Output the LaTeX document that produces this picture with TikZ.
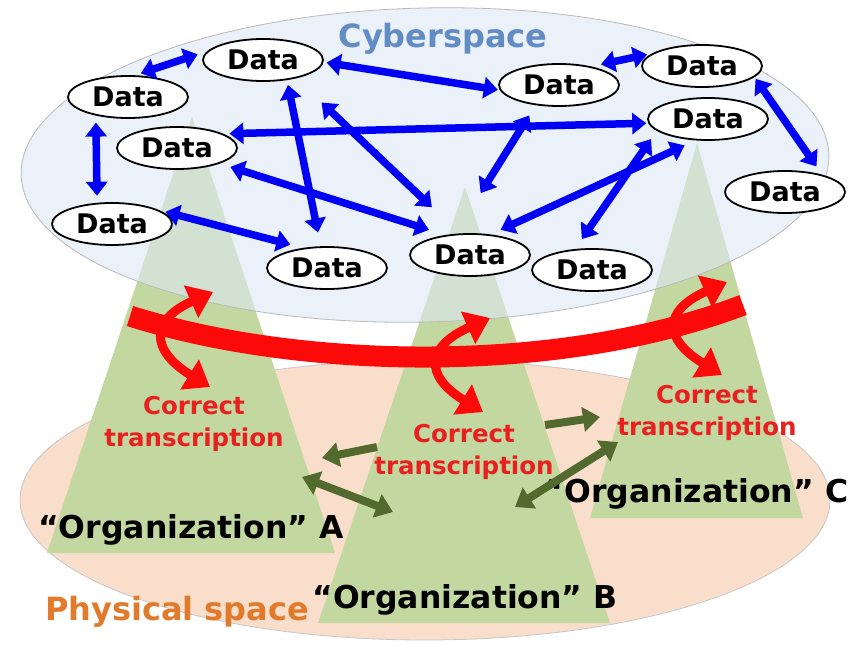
\documentclass[tikz,border=0pt]{standalone}
\usepackage{fontspec}
\setmainfont{DejaVu Sans}
\usepackage{xcolor}
\usetikzlibrary{shapes.geometric,arrows.meta}

\definecolor{cyberfill}{RGB}{221,231,244}
\definecolor{physfill}{RGB}{250,222,204}
\definecolor{orgfill}{RGB}{195,216,160}
\definecolor{cybertext}{RGB}{98,140,196}
\definecolor{phystext}{RGB}{226,122,44}
\definecolor{transred}{RGB}{232,32,32}
\definecolor{bandred}{RGB}{252,10,10}
\definecolor{linkgreen}{RGB}{82,106,46}
\definecolor{datablue}{RGB}{0,0,245}

\tikzset{
  datanode/.style={ellipse, draw=black, line width=1.8pt, fill=white,
    minimum width=120pt, minimum height=42pt, inner sep=0pt,
    font=\fontsize{27}{29}\selectfont\bfseries},
  bluearrow/.style={datablue, line width=7.5pt, >={Triangle[width=21pt,length=14pt]}},
  redband/.style={bandred, line width=21pt},
  redarrow/.style={bandred, line width=9pt, >={Triangle[width=34pt,length=24pt]}},
  greenarrow/.style={linkgreen, line width=8pt, >={Triangle[width=24pt,length=17pt]}},
  translabel/.style={text=transred, align=center, inner sep=0pt,
    font=\fontsize{24.5}{32}\selectfont\bfseries},
  orglabel/.style={inner sep=0pt, font=\fontsize{31.5}{34}\selectfont\bfseries},
  spacelabel/.style={inner sep=0pt, font=\fontsize{32}{34}\selectfont\bfseries}
}

\begin{document}
\begin{tikzpicture}[x=1pt,y=-1pt]
\useasboundingbox (0,0) rectangle (853,645);

% physical space and the three organizations
\draw[gray!45, line width=0.8pt, fill=physfill] (425,500) ellipse [x radius=405, y radius=140];
\foreach \o/\ax/\ay/\lx/\rx/\by in {A/192/117/47/335/553, B/465/187/318/610/623, C/697/143/590/803/518}
{
  \fill[orgfill] (\ax,\ay) coordinate (top\o) -- (\lx,\by) -- (\rx,\by) -- cycle;
}

% cyberspace
\draw[gray!55, line width=0.8pt, fill=cyberfill, fill opacity=0.6, rotate around={1.4:(425,165)}]
  (425,165) ellipse [x radius=404, y radius=157];
\node[spacelabel, text=cybertext] (cyber) at (443,39) {Cyberspace};

\foreach \n/\x/\y in {d1/128/97, d2/263/60, d3/177/148, d4/112/224, d5/327/268, d6/559/85,
                      d7/702/66, d8/708/119, d9/785/192, d10/470/255, d11/592/270}
  \node[datanode] (\n) at (\x,\y) {Data};

\foreach \a/\b/\sa/\sb in {d1.72/d2.171/6/10, d2.-2/d6.185/3/2, d1.-150/d4.125/7/7,
                           d3.17/d8.184/6/2, d2.-40/d5.106/5/14, d2.-29/d10.116/35/38,
                           d3.-20/d10.141/11/17, d4.16/d5.140/6/13, d6.-139/d10.125/12/48,
                           d8.-120/d10.45/12/11, d8.-167/d11.129/10/12, d6.30/d7.166/10/5,
                           d7.-12/d9.25/2/10}
  \draw[bluearrow, <->, shorten <=\sa pt, shorten >=\sb pt] (\a) -- (\b);

% correct transcription between the two spaces
\coordinate (bandL) at (130,316);
\coordinate (bandR) at (743,305);
\draw[redband] (bandL) .. controls (300,370) and (560,375) .. (bandR);
\foreach \o/\ux/\uy/\dx/\dy in {A/213/292/210/387, B/490/318/483/412, C/727/282/722/375}
{
  \coordinate (up\o) at (\ux,\uy);
  \coordinate (down\o) at (\dx,\dy);
  \draw[redarrow, <->] (down\o) .. controls +(-60,-37) and +(-63,28) .. (up\o);
}

\node[translabel] (transA) at (194,424) {Correct\\transcription};
\node[translabel] (transB) at (464,452) {Correct\\transcription};
\node[translabel] (transC) at (707,413) {Correct\\transcription};

\node[orglabel] (orgA) at (191,530) {“Organization” A};
\node[orglabel] (orgB) at (465,600) {“Organization” B};
\node[orglabel] (orgC) at (696,494) {“Organization” C};
\node[spacelabel, text=phystext] (phys) at (177,612) {Physical space};

% links between organizations
\coordinate (gB1) at (377,447);
\coordinate (gA1) at (322,458);
\coordinate (gA2) at (302,477);
\coordinate (gB2) at (393,512);
\coordinate (gB3) at (545,425);
\coordinate (gC3) at (600,417);
\coordinate (gC4) at (618,442);
\coordinate (gB4) at (515,507);
\draw[greenarrow, ->] (gB1) -- (gA1);
\draw[greenarrow, <->] (gA2) -- (gB2);
\draw[greenarrow, ->] (gB3) -- (gC3);
\draw[greenarrow, <->] (gC4) -- (gB4);
\end{tikzpicture}
\end{document}
